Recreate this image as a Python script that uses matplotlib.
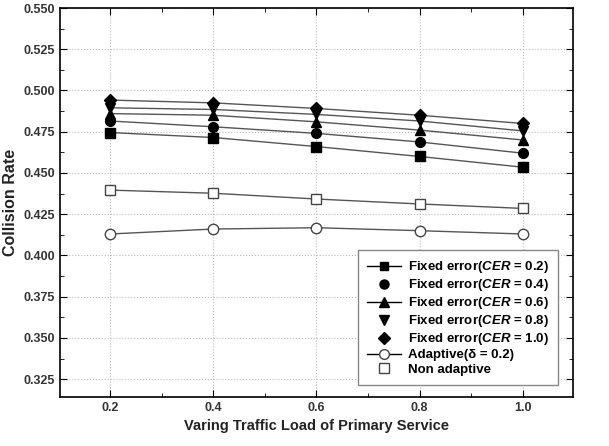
import matplotlib
matplotlib.use('Agg')
import matplotlib.pyplot as plt
from matplotlib.lines import Line2D
from matplotlib.ticker import MultipleLocator, FormatStrFormatter

plt.rcParams['font.family'] = 'Liberation Sans'
plt.rcParams['font.weight'] = 'bold'
plt.rcParams['axes.labelweight'] = 'bold'
plt.rcParams['mathtext.fontset'] = 'custom'
plt.rcParams['mathtext.it'] = 'Liberation Sans:bold:italic'
plt.rcParams['mathtext.rm'] = 'Liberation Sans:bold'

# Dados
carga = [0.2, 0.4, 0.6, 0.8, 1.0]
cer_02 = [0.4745, 0.4715, 0.4660, 0.4600, 0.4535]
cer_04 = [0.4815, 0.4780, 0.4740, 0.4688, 0.4620]
cer_06 = [0.4860, 0.4850, 0.4810, 0.4760, 0.4700]
cer_08 = [0.4895, 0.4885, 0.4855, 0.4815, 0.4755]
cer_10 = [0.4942, 0.4925, 0.4891, 0.4850, 0.4800]
adaptive = [0.4130, 0.4160, 0.4168, 0.4150, 0.4130]
non_adaptive = [0.4396, 0.4377, 0.4342, 0.4312, 0.4285]

labels = ['Fixed error($CER$ = 0.2)', 'Fixed error($CER$ = 0.4)',
          'Fixed error($CER$ = 0.6)', 'Fixed error($CER$ = 0.8)',
          'Fixed error($CER$ = 1.0)', 'Adaptive(δ = 0.2)', 'Non adaptive']

fig = plt.figure(figsize=(6.09, 4.46), dpi=100)
ax = fig.add_axes([0.0985, 0.110, 0.842, 0.872])

lc = '#555555'
series = [
    (cer_02, 's', 'black', 6.5, True),
    (cer_04, 'o', 'black', 7, False),
    (cer_06, '^', 'black', 7.5, True),
    (cer_08, 'v', 'black', 7.5, False),
    (cer_10, 'D', 'black', 6.5, False),
    (adaptive, 'o', 'white', 7.5, True),
    (non_adaptive, 's', 'white', 7, False),
]

handles = []
for vals, m, fc, ms, leg_line in series:
    ec = 'black' if fc == 'black' else '#444444'
    ax.plot(carga, vals, color=lc, lw=1.0, marker=m, markersize=ms,
            markerfacecolor=fc, markeredgecolor=ec, markeredgewidth=1.0)
    handles.append(Line2D([], [], color='black' if leg_line else 'none', lw=1.0,
                          marker=m, markersize=ms - 0.5, markerfacecolor=fc,
                          markeredgecolor=ec))

ax.set_xlim(0.103, 1.097)
ax.set_ylim(0.3142, 0.550)
ax.set_xticks(carga)
ax.set_xticklabels(['0.2', '0.4', '0.6', '0.8', '1.0'])
ax.xaxis.set_minor_locator(MultipleLocator(0.1))
ax.yaxis.set_major_locator(MultipleLocator(0.025))
ax.yaxis.set_minor_locator(MultipleLocator(0.0125))
ax.yaxis.set_major_formatter(FormatStrFormatter('%.3f'))
ax.tick_params(which='both', direction='in', top=True, right=True, labelsize=9,
               labelcolor='#333333')
ax.tick_params(which='major', length=5)
ax.tick_params(which='minor', length=3)
ax.grid(True, which='major', linestyle=':', color='#bbbbbb', lw=0.8)
for s in ax.spines.values():
    s.set_linewidth(1.2)

ax.set_xlabel('Varing Traffic Load of Primary Service', fontsize=10.5, color='#222222')
ax.set_ylabel('Collision Rate', fontsize=11.5, color='#222222')

ax.legend(handles, labels, loc='lower right', bbox_to_anchor=(0.971, 0.031),
          fontsize=9.5, frameon=True, fancybox=False, edgecolor='#888888',
          framealpha=1, handlelength=2.6, handletextpad=0.5, labelspacing=0.15,
          borderpad=0.7, borderaxespad=0)

plt.savefig('out.png', dpi=100)
plt.close()
